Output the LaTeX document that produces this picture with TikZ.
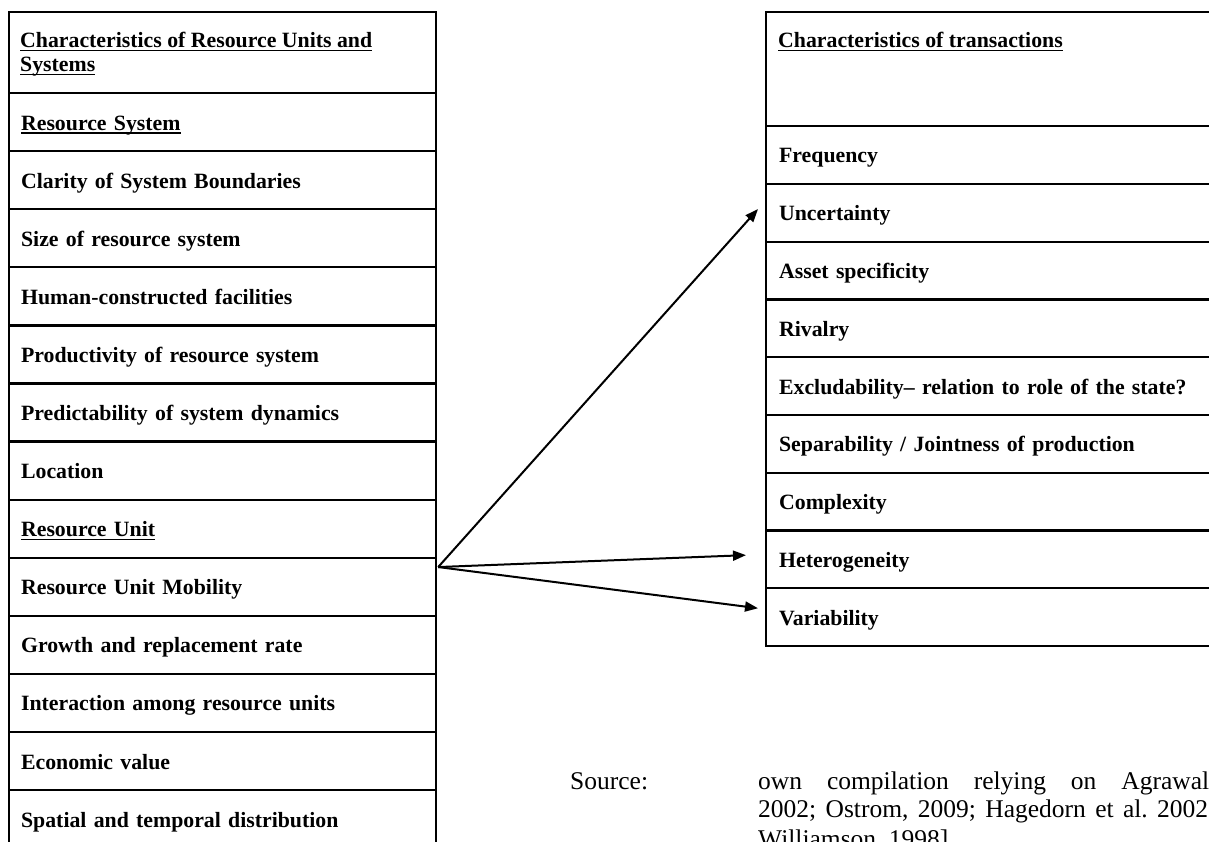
\documentclass[tikz,border=0pt]{standalone}
\usepackage{fontspec}
\setmainfont{Liberation Serif}
\usetikzlibrary{arrows.meta,calc}
\newcommand\myul[1]{\setbox0\hbox{#1}\rlap{\rule[-3.5pt]{\wd0}{1.4pt}}\box0}
\begin{document}
\begin{tikzpicture}[x=1pt,y=-1pt,
  bfont/.style={font=\fontsize{21.8}{24}\selectfont\bfseries},
  cellL/.style={draw, line width=2.2pt, rectangle, anchor=north west,
    minimum width=427pt, minimum height=58.08pt, text width=403pt,
    inner xsep=12pt, inner ysep=0pt, text height=16pt, text depth=0pt,
    align=left, bfont},
  cellR/.style={draw, line width=2.2pt, rectangle, anchor=north west,
    minimum width=500pt, minimum height=57.78pt, text width=474pt,
    inner xsep=13pt, inner ysep=0pt, text height=16pt, text depth=0pt,
    align=left, bfont},
  htext/.style={anchor=base west, inner sep=0pt, bfont},
  srctext/.style={anchor=base west, inner sep=0pt, font=\fontsize{25.5}{28}\selectfont},
  arr/.style={line width=2pt, -{Triangle[length=13pt,width=10pt]}}]
\useasboundingbox (0,0) rectangle (1209,842);
\clip (0,0) rectangle (1209,842);
\fill[white] (0,0) rectangle (1209,842);

% left table
\node[cellL, minimum height=81pt] (lh) at (8,11) {};
\node[htext] (lh1) at (20,48) {\myul{Characteristics of Resource Units and}};
\node[htext] (lh2) at (20,72) {\myul{Systems}};
\foreach \t [count=\i] in {{\myul{Resource System}},
  {Clarity of System Boundaries},
  {Size of resource system},
  {Human-constructed facilities},
  {Productivity of resource system},
  {Predictability of system dynamics},
  {Location},
  {\myul{Resource Unit}},
  {Resource Unit Mobility},
  {Growth and replacement rate},
  {Interaction among resource units},
  {Economic value},
  {Spatial and temporal distribution}}
  \node[cellL] (l\i) at (8,{92+(\i-1)*58.08}) {\t};

% right table
\node[cellR, minimum height=114pt] (rh) at (765,11) {};
\node[htext] (rh1) at (778,48) {\myul{Characteristics of transactions}};
\foreach \t [count=\i] in {{Frequency},
  {Uncertainty},
  {Asset specificity},
  {Rivalry},
  {Excludability– relation to role of the state?},
  {Separability / Jointness of production},
  {Complexity},
  {Heterogeneity},
  {Variability}}
  \node[cellR] (r\i) at (765,{125+(\i-1)*57.78}) {\t};

% arrows
\coordinate (src) at ($(l9.north east)+(1,10.4)$);
\coordinate (t1) at ($(r2.west)+(-7,-3.7)$);
\coordinate (t2) at ($(r8.west)+(-19,-4.3)$);
\coordinate (t3) at ($(r9.west)+(-7,-9)$);
\draw[arr] (src) -- (t1);
\draw[arr] (src) -- (t2);
\draw[arr] (src) -- (t3);

% source
\node[srctext] (s0) at (570,789) {Source:};
\node[srctext] (s1) at (758,789) {\hbox to 451pt{own\hfill compilation\hfill relying\hfill on\hfill Agrawal}};
\node[srctext] (s2) at (758,817) {\hbox to 450pt{2002;\hfill Ostrom,\hfill 2009;\hfill Hagedorn\hfill et\hfill al.\hfill 2002}};
\node[srctext] (s3) at (758,847) {Williamson, 1998]};
\end{tikzpicture}
\end{document}
